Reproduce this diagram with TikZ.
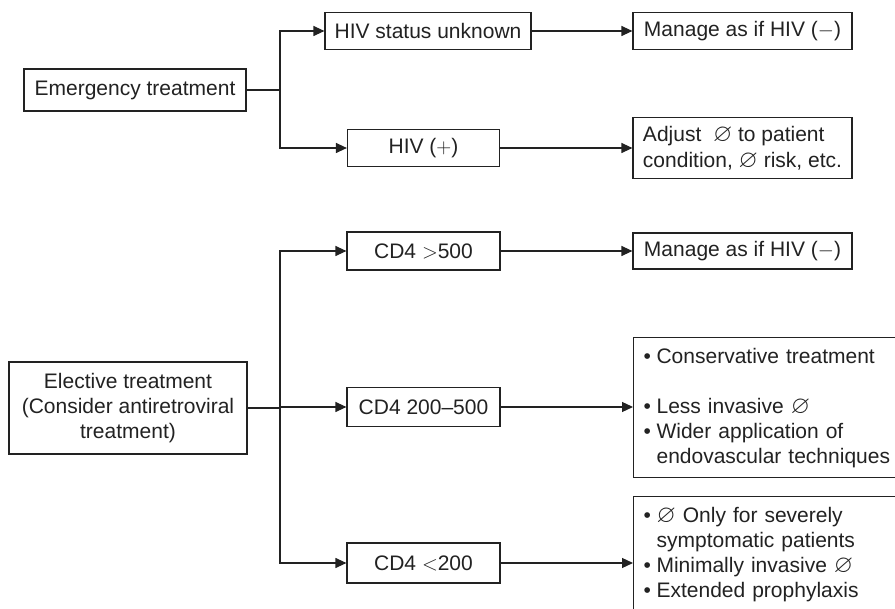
\documentclass[tikz,border=0pt]{standalone}
\usepackage{amssymb}
\usepackage{fontspec}
\setmainfont{Liberation Sans}
\usetikzlibrary{arrows.meta}
\definecolor{ink}{HTML}{222222}
\newcommand{\bul}[1]{\makebox[13pt][l]{\textbullet}#1}
\newcommand{\cont}[1]{\hspace*{13pt}#1}
\newcommand{\noth}{\smash{\scalebox{1.18}{$\varnothing$}}}
\begin{document}
\begin{tikzpicture}[x=1pt,y=-1pt,
  every node/.style={font=\fontsize{21}{25}\selectfont, text=ink},
  box/.style={draw=ink, line width=1.2pt, inner sep=0pt, align=center},
  listbox/.style={draw=ink, line width=1.2pt, inner xsep=10pt, inner ysep=0pt, align=left, anchor=north west},
  arr/.style={draw=ink, line width=1.2pt, -{Triangle[length=11pt,width=10pt]}},
  link/.style={draw=ink, line width=1.2pt}]
\clip (0,0) rectangle (895,609);
\fill[white] (0,0) rectangle (895,609);

% emergency branch
\node[box, minimum width=222pt, minimum height=42pt] (em) at (135,90) {Emergency treatment};
\node[box, minimum width=206pt, minimum height=37pt] (unk) at (428,31) {HIV status unknown};
\node[box, minimum width=152pt, minimum height=37pt] (pos) at (423.5,148) {HIV ($+$)};
\node[box, minimum width=219pt, minimum height=37pt] (man1) at (742.5,31) {Manage as if HIV ($-$)};
\node[box, align=left, minimum width=219pt, minimum height=61pt] (adj) at (742.5,148)
  {Adjust \ \noth{} to patient\\[0.5pt]condition, \noth{} risk, etc.};
\coordinate (j1) at (280,90);
\draw[link] (em.east) -- (j1);
\draw[arr] (j1) |- (unk.west);
\draw[arr] (j1) |- (pos.west);
\draw[arr] (unk.east) -- (man1.west);
\draw[arr] (pos.east) -- (adj.west);

% elective branch
\node[box, minimum width=238pt, minimum height=92pt] (el) at (128,408)
  {Elective treatment\\(Consider antiretroviral\\treatment)};
\node[box, minimum width=153pt, minimum height=38pt] (c1) at (423.5,251) {CD4 $>$500};
\node[box, minimum width=153pt, minimum height=39pt] (c2) at (423.5,407) {CD4 200–500};
\node[box, minimum width=153pt, minimum height=40pt] (c3) at (423.5,563) {CD4 $<$200};
\node[box, minimum width=219pt, minimum height=36pt] (man2) at (742.5,251) {Manage as if HIV ($-$)};
\node[listbox, minimum height=140pt, text width=260pt] (cons) at (633,337)
  {\bul{Conservative treatment}\\ \mbox{}\\ \bul{Less invasive \noth}\\ \bul{Wider application of}\\ \cont{endovascular techniques}};
\node[listbox, minimum height=116pt, text width=260pt] (low) at (633,496)
  {\bul{\noth{} Only for severely}\\ \cont{symptomatic patients}\\[0.5pt] \bul{Minimally invasive \noth}\\ \bul{Extended prophylaxis}};
\coordinate (j2) at (280,408);
\draw[link] (el.east) -- (j2);
\draw[arr] (j2) |- (c1.west);
\draw[arr] (j2) |- (c2.west);
\draw[arr] (j2) |- (c3.west);
\draw[arr] (c1.east) -- (man2.west);
\draw[arr] (c2.east) -- (c2.east -| cons.west);
\draw[arr] (c3.east) -- (c3.east -| low.west);
\end{tikzpicture}
\end{document}
